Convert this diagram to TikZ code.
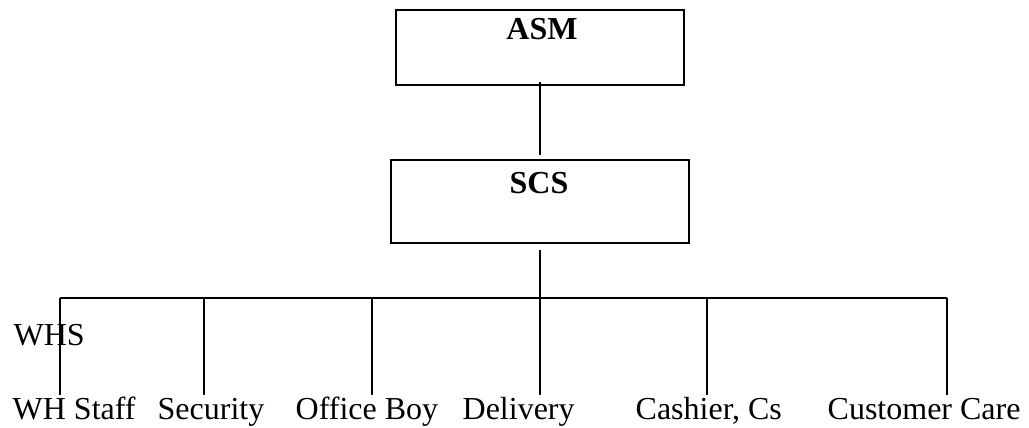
\documentclass[tikz,border=0pt]{standalone}
\usepackage{fontspec}
\setmainfont{Liberation Serif}
\begin{document}
\begin{tikzpicture}[x=0.75pt,y=-0.75pt,line width=1pt,
  box/.style={draw,line width=1.1pt,inner sep=0pt,outer sep=0pt},
  title/.style={font=\fontsize{24}{28}\selectfont\bfseries,inner sep=0pt,anchor=base},
  lbl/.style={font=\fontsize{24}{28}\selectfont,inner sep=0pt,anchor=base west},
  conn/.style={draw,line width=1pt}]
\useasboundingbox (0,0) rectangle (1029,428);
% boxes
\node[box,minimum width=216pt,minimum height=56.25pt] (asm) at (540,47.5) {};
\node[title] (asmt) at (542,40) {ASM};
\node[box,minimum width=223.5pt,minimum height=62.25pt] (scs) at (540,201.5) {};
\node[title] (scst) at (539,193) {SCS};
% labels
\node[lbl] (whs) at (13,345) {WHS};
\node[lbl] (whstaff) at (12,419) {WH Staff};
\node[lbl] (sec) at (157,419) {Security};
\node[lbl] (ob) at (295,419) {Office Boy};
\node[lbl] (del) at (462,419) {Delivery};
\node[lbl] (cash) at (635,419) {Cashier, Cs};
\node[lbl] (cc) at (827,419) {Customer Care};
% coordinates
\coordinate (a1) at (540,82);
\coordinate (a2) at (540,155);
\coordinate (s1) at (540,250);
\coordinate (bus) at (540,298);
\coordinate (bL) at (60,298);
\coordinate (bR) at (947,298);
\foreach \n/\x in {t1/60,t2/204,t3/372,t4/540,t5/707,t6/947}{
  \coordinate (\n) at (\x,298);
  \coordinate (\n e) at (\x,395);
}
\draw[conn] (a1) -- (a2);
\draw[conn] (s1) -- (bus);
\draw[conn] (bL) -- (bR);
\foreach \n in {t1,t2,t3,t4,t5,t6}{
  \draw[conn] (\n) -- (\n e);
}
\end{tikzpicture}
\end{document}
